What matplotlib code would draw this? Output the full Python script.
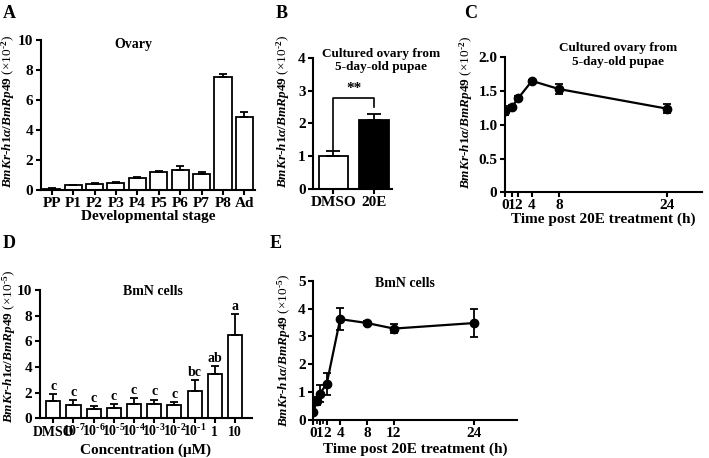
import matplotlib
matplotlib.use('Agg')
import matplotlib.pyplot as plt
import numpy as np

plt.rcParams['font.family'] = ['Liberation Serif', 'DejaVu Serif']
plt.rcParams['font.weight'] = 'bold'
plt.rcParams['mathtext.fontset'] = 'custom'
plt.rcParams['mathtext.rm'] = 'Liberation Serif:bold'
plt.rcParams['mathtext.it'] = 'Liberation Serif:italic:bold'
plt.rcParams['mathtext.bf'] = 'Liberation Serif:bold'
plt.rcParams['axes.linewidth'] = 1.5
plt.rcParams['xtick.major.width'] = 1.5
plt.rcParams['ytick.major.width'] = 1.5
plt.rcParams['xtick.minor.width'] = 1.2
plt.rcParams['xtick.minor.size'] = 3
plt.rcParams['xtick.major.size'] = 3.5
plt.rcParams['ytick.major.size'] = 3.5
plt.rcParams['xtick.major.pad'] = 1.5
plt.rcParams['ytick.major.pad'] = 2

# ---- data ----
# A: ovary developmental stages
stages = ['PP', 'P1', 'P2', 'P3', 'P4', 'P5', 'P6', 'P7', 'P8', 'Ad']
stage_val = [0.08, 0.3, 0.4, 0.45, 0.82, 1.22, 1.35, 1.05, 7.5, 4.85]
stage_err = [0.03, 0.05, 0.05, 0.07, 0.03, 0.05, 0.28, 0.15, 0.2, 0.35]

# B: DMSO vs 20E
treat = ['DMSO', '20E']
treat_val = [1.02, 2.1]
treat_err = [0.15, 0.2]

# C: ovary time course
c_time = [0, 1, 2, 4, 8, 24]
c_val = [1.21, 1.26, 1.40, 1.65, 1.53, 1.24]
c_err = [0.07, 0.03, 0.03, 0.02, 0.08, 0.07]

# D: BmN cells concentration
conc = ['DMSO', r'10$^{\text{-}7}$', r'10$^{\text{-}6}$', r'10$^{\text{-}5}$', r'10$^{\text{-}4}$',
        r'10$^{\text{-}3}$', r'10$^{\text{-}2}$', r'10$^{\text{-}1}$', '1', '10']
conc_val = [1.35, 1.05, 0.72, 0.82, 1.1, 1.1, 1.0, 2.15, 3.45, 6.5]
conc_err = [0.55, 0.35, 0.25, 0.3, 0.45, 0.35, 0.25, 0.8, 0.6, 1.6]
conc_sig = ['c', 'c', 'c', 'c', 'c', 'c', 'c', 'bc', 'ab', 'a']

# E: BmN cells time course
e_time = [0, 0.5, 1, 2, 4, 8, 12, 24]
e_val = [0.28, 0.68, 0.95, 1.3, 3.62, 3.48, 3.28, 3.48]
e_err = [0.05, 0.15, 0.3, 0.4, 0.4, 0.08, 0.15, 0.5]


def ylab(ax, exp, x, y):
    ax.set_ylabel(r'$\mathit{BmKr}$-$\mathit{h1\alpha/BmRp49}$ (×10$^{\text{-}%d}$)' % exp,
                  fontsize=9.5)
    ax.yaxis.set_label_coords(x, y)


def style(ax):
    ax.spines['top'].set_visible(False)
    ax.spines['right'].set_visible(False)
    ax.tick_params(labelsize=11)
    for t in ax.get_xticklabels() + ax.get_yticklabels():
        t.set_fontweight('bold')


fig = plt.figure(figsize=(7.09, 4.58), dpi=100)

# A
axA = fig.add_axes([0.0578, 0.5852, 0.302, 0.3275])
x = np.arange(len(stages))
axA.bar(x, stage_val, width=0.8, color='white', edgecolor='black', linewidth=1.3,
        yerr=[np.zeros(len(stage_err)), stage_err],
        error_kw=dict(ecolor='black', elinewidth=1.3, capsize=3, capthick=1.3))
axA.set_xlim(-0.5, 9.5)
axA.set_ylim(0, 10)
axA.set_yticks([0, 2, 4, 6, 8, 10])
axA.set_xticks(x)
axA.set_xticklabels(stages)
axA.set_xlabel('Developmental stage', fontsize=11, fontweight='bold', labelpad=0)
ylab(axA, 2, -0.112, 0.52)
axA.text(0.43, 0.967, 'Ovary', transform=axA.transAxes, ha='center', va='center',
         fontsize=10, fontweight='bold')
style(axA)

# B
axB = fig.add_axes([0.4419, 0.5873, 0.1106, 0.2867])
xb = np.arange(len(treat))
axB.bar(xb, treat_val, width=0.74, color=['white', 'black'], edgecolor='black', linewidth=1.3,
        yerr=[np.zeros(2), treat_err],
        error_kw=dict(ecolor='black', elinewidth=1.3, capsize=5, capthick=1.3))
axB.set_xlim(-0.5, 1.45)
axB.set_ylim(0, 4)
axB.set_yticks([0, 1, 2, 3, 4])
axB.set_xticks(xb)
axB.set_xticklabels(treat)
ylab(axB, 2, -0.27, 0.59)
axB.plot([0, 0, 1, 1], [1.2, 2.76, 2.76, 2.5], color='black', lw=1.2)
axB.text(0.5, 2.85, '**', ha='center', va='bottom', fontsize=11, fontweight='bold')
axB.text(0.86, 0.98, 'Cultured ovary from\n5-day-old pupae', transform=axB.transAxes,
         ha='center', va='center', fontsize=9.5, fontweight='bold', linespacing=1.15)
style(axB)

# C
axC = fig.add_axes([0.7123, 0.5801, 0.2774, 0.2948])
axC.errorbar(c_time, c_val, yerr=c_err, color='black', marker='o', markersize=6,
             lw=1.6, elinewidth=1.3, capsize=3, capthick=1.3)
axC.set_xlim(0, 29.2)
axC.set_ylim(0, 2.0)
axC.set_yticks([0, 0.5, 1.0, 1.5, 2.0])
axC.set_yticklabels(['0', '0.5', '1.0', '1.5', '2.0'])
axC.set_xticks([0, 1, 2, 4, 8, 24])
axC.set_xlabel('Time post 20E treatment (h)', fontsize=11, fontweight='bold', labelpad=0)
ylab(axC, 2, -0.153, 0.59)
axC.text(0.574, 1.017, 'Cultured ovary from\n5-day-old pupae', transform=axC.transAxes,
         ha='center', va='center', fontsize=9.5, fontweight='bold', linespacing=1.15)
style(axC)

# D
axD = fig.add_axes([0.0564, 0.0867, 0.2986, 0.2801])
xd = np.arange(len(conc))
axD.bar(xd, conc_val, width=0.7, color='white', edgecolor='black', linewidth=1.3,
        yerr=[np.zeros(len(conc_err)), conc_err],
        error_kw=dict(ecolor='black', elinewidth=1.3, capsize=3, capthick=1.3))
for xi, v, e, s in zip(xd, conc_val, conc_err, conc_sig):
    axD.text(xi, v + e + 0.1, s, ha='center', va='bottom', fontsize=10, fontweight='bold')
axD.set_xlim(-0.66, 9.83)
axD.set_ylim(0, 10)
axD.set_yticks([0, 2, 4, 6, 8, 10])
axD.set_xticks(xd)
axD.set_xticklabels(conc)
axD.set_xlabel('Concentration (μM)', fontsize=11, fontweight='bold', labelpad=3)
ylab(axD, 5, -0.104, 0.556)
axD.text(0.534, 0.987, 'BmN cells', transform=axD.transAxes, ha='center', va='center',
         fontsize=10, fontweight='bold')
style(axD)
axD.tick_params(axis='x', labelsize=10, pad=9.5)
for t in axD.get_xticklabels():
    t.set_verticalalignment('baseline')

# E
axE = fig.add_axes([0.4419, 0.083, 0.2877, 0.3042])
axE.errorbar(e_time, e_val, yerr=e_err, color='black', marker='o', markersize=6,
             lw=1.6, elinewidth=1.3, capsize=3, capthick=1.3)
axE.set_xlim(0, 30.4)
axE.set_ylim(0, 5)
axE.set_yticks([0, 1, 2, 3, 4, 5])
axE.set_xticks([0, 1, 2, 4, 8, 12, 24])
axE.set_xticks([0.5, 1.5], minor=True)
axE.set_xlabel('Time post 20E treatment (h)', fontsize=11, fontweight='bold', labelpad=2)
ylab(axE, 5, -0.1, 0.5)
axE.text(0.45, 0.98, 'BmN cells', transform=axE.transAxes, ha='center', va='center',
         fontsize=10, fontweight='bold')
style(axE)

# panel letters
for lab, px, py in [('A', 3, 5), ('B', 276, 5), ('C', 464, 5), ('D', 3, 235), ('E', 270, 235)]:
    fig.text(px / 709, 1 - py / 458, lab, ha='left', va='top', fontsize=13, fontweight='bold')

fig.savefig('out.png', dpi=100)
